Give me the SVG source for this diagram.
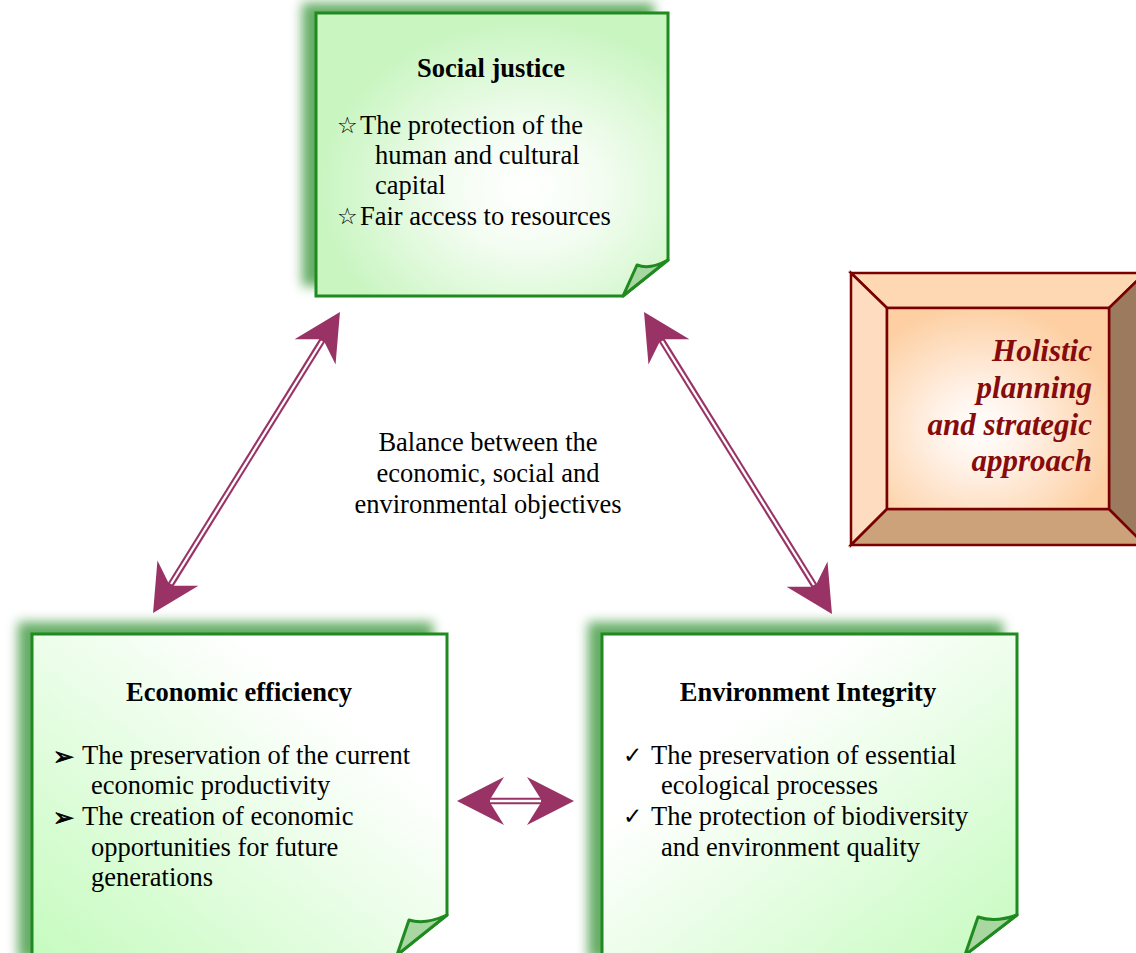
<svg xmlns="http://www.w3.org/2000/svg" width="1136" height="953" viewBox="0 0 1136 953">
<defs>
<style>
.box{stroke:#1f8a1f;stroke-width:3;stroke-linejoin:miter}
.fold{fill:#a8d7a2;stroke:#1f8a1f;stroke-width:3;stroke-linejoin:round}
.sh{fill:#4a9f4a;opacity:0.85;filter:url(#blur)}
.t{font-family:"Liberation Serif","Times New Roman",serif;font-size:26.5px;fill:#000}
.ttl{font-family:"Liberation Serif","Times New Roman",serif;font-size:26.5px;font-weight:bold;fill:#000;text-anchor:middle}
.b{font-family:"DejaVu Sans",sans-serif;font-size:23px;fill:#000}
.ba{font-family:"DejaVu Sans",sans-serif;font-size:25px;fill:#000;stroke:#000;stroke-width:0.9}
.hol{font-family:"Liberation Serif","Times New Roman",serif;font-size:31px;font-weight:bold;font-style:italic;fill:#860b0b;text-anchor:end}
.bev{stroke:#7a0000;stroke-width:2.5;stroke-linejoin:miter}
.arr{fill:none;stroke:#993366;stroke-width:6.5}
.gap{fill:none;stroke:#ffffff;stroke-width:2.3}
</style>
<filter id="blur" x="-10%" y="-10%" width="120%" height="120%"><feGaussianBlur stdDeviation="6"/></filter>
<radialGradient id="gTop" cx="0.6" cy="0.62" r="0.6">
<stop offset="0" stop-color="#ffffff"/><stop offset="0.35" stop-color="#f4fdf2"/><stop offset="1" stop-color="#c8f5c0"/>
</radialGradient>
<linearGradient id="gEco" x1="1" y1="0" x2="0" y2="1">
<stop offset="0.25" stop-color="#ffffff"/><stop offset="1" stop-color="#c6fbbf"/>
</linearGradient>
<linearGradient id="gEnv" x1="0" y1="0" x2="1" y2="1">
<stop offset="0.3" stop-color="#ffffff"/><stop offset="1" stop-color="#c6fbbf"/>
</linearGradient>
<radialGradient id="gHol" cx="0.42" cy="0.6" r="0.62">
<stop offset="0" stop-color="#ffffff"/><stop offset="0.3" stop-color="#fff3ea"/><stop offset="1" stop-color="#fdcfa2"/>
</radialGradient>
<marker id="head" viewBox="-47 -24 47 48" refX="-31" refY="0" markerWidth="47" markerHeight="48" markerUnits="userSpaceOnUse" orient="auto-start-reverse">
<path d="M0,0 L-47,-24 L-32,0 L-47,24 Z" fill="#993366"/>
</marker>
</defs>

<g id="social-justice">
<path class="sh" d="M302,3 H654 V250 L609,286 H302 Z"/>
<path class="box" fill="url(#gTop)" d="M316,13 H668 V260 L623,296 H316 Z"/>
<path class="fold" d="M623,296 L637,265 Q650,270 668,260 Z"/>
<text class="ttl" x="491" y="77">Social justice</text>
<text class="b" x="337" y="133">☆</text>
<text class="t" x="360" y="134">The protection of the</text>
<text class="t" x="375" y="164">human and cultural</text>
<text class="t" x="375" y="194">capital</text>
<text class="b" x="337" y="224">☆</text>
<text class="t" x="360" y="225">Fair access to resources</text>
</g>

<g id="economic-efficiency">
<path class="sh" d="M18,622 H433 V905 L383,960 H18 Z"/>
<path class="box" fill="url(#gEco)" d="M32,634 H447 V915 L397,955 H32 Z"/>
<path class="fold" d="M397,955 L409,920 Q425,925 447,915 Z"/>
<text class="ttl" x="239" y="701">Economic efficiency</text>
<text class="ba" x="53" y="765">➢</text>
<text class="t" x="82" y="764">The preservation of the current</text>
<text class="t" x="91" y="794">economic productivity</text>
<text class="ba" x="53" y="826">➢</text>
<text class="t" x="82" y="825">The creation of economic</text>
<text class="t" x="91" y="856">opportunities for future</text>
<text class="t" x="91" y="886">generations</text>
</g>

<g id="environment-integrity">
<path class="sh" d="M588,622 H1003 V905 L951,960 H588 Z"/>
<path class="box" fill="url(#gEnv)" d="M602,634 H1017 V915 L965,955 H602 Z"/>
<path class="fold" d="M965,955 L978,917 Q995,923 1017,915 Z"/>
<text class="ttl" x="808" y="701">Environment Integrity</text>
<text class="b" x="623" y="763">✓</text>
<text class="t" x="651" y="764">The preservation of essential</text>
<text class="t" x="661" y="794">ecological processes</text>
<text class="b" x="623" y="824">✓</text>
<text class="t" x="651" y="825">The protection of biodiversity</text>
<text class="t" x="661" y="856">and environment quality</text>
</g>

<g id="holistic">
<polygon class="bev" fill="#fdd8b2" points="851,273 1145,273 1109,308 887,308"/>
<polygon class="bev" fill="#fddcc0" points="851,273 887,308 887,509 851,545"/>
<polygon class="bev" fill="#cca27b" points="851,545 887,509 1109,509 1145,545"/>
<polygon class="bev" fill="#9b7a5d" points="1145,273 1109,308 1109,509 1145,545"/>
<rect class="bev" fill="url(#gHol)" x="887" y="308" width="222" height="201"/>
<text class="hol" x="1092" y="361">Holistic</text>
<text class="hol" x="1092" y="398">planning</text>
<text class="hol" x="1092" y="435">and strategic</text>
<text class="hol" x="1092" y="471">approach</text>
</g>

<g id="balance-label">
<text class="t" x="488" y="451" text-anchor="middle">Balance between the</text>
<text class="t" x="488" y="482" text-anchor="middle">economic, social and</text>
<text class="t" x="488" y="513" text-anchor="middle">environmental objectives</text>
</g>

<g id="connectors">
<path class="arr" d="M169.4,586.7 L323.6,338.3" marker-start="url(#head)" marker-end="url(#head)"/>
<path class="gap" d="M171,584 L322,341"/>
<path class="arr" d="M660.4,338.3 L815.6,587.7" marker-start="url(#head)" marker-end="url(#head)"/>
<path class="gap" d="M662,341 L814,585"/>
<path class="arr" d="M488,801 L543,801" marker-start="url(#head)" marker-end="url(#head)"/>
<path class="gap" d="M490,801 L541,801"/>
</g>
</svg>
